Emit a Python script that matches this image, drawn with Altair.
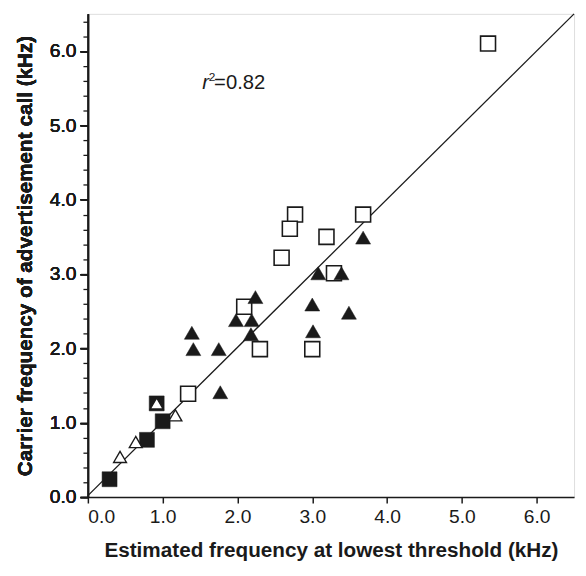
import altair as alt
import pandas as pd

# ---- data ----
open_sq_x = [5.35, 2.77, 2.70, 3.68, 3.19, 2.59, 3.29, 2.09, 2.30, 3.00, 1.34]
open_sq_y = [6.10, 3.80, 3.61, 3.80, 3.50, 3.22, 3.01, 2.56, 1.99, 1.99, 1.39]

filled_tri_x = [3.68, 3.08, 3.39, 2.24, 1.98, 2.19, 3.00, 3.49, 1.39, 2.18, 3.01, 1.41, 1.75, 1.77]
filled_tri_y = [3.49, 3.01, 3.01, 2.69, 2.38, 2.38, 2.59, 2.48, 2.21, 2.19, 2.23, 1.99, 1.99, 1.41]

filled_sq_x = [0.29, 0.79, 1.00, 0.92]
filled_sq_y = [0.24, 0.77, 1.02, 1.26]

open_tri_x = [0.43, 0.64, 1.17, 0.92]
open_tri_y = [0.54, 0.74, 1.10, 1.26]

fit_x = [0.0, 6.5]
fit_y = [0.02, 6.5]

major_ticks = [0, 1, 2, 3, 4, 5, 6]
minor_ticks = [0.0, 0.2, 0.4, 0.6, 0.8, 1.0, 1.2, 1.4, 1.6, 1.8, 2.0, 2.2, 2.4, 2.6,
               2.8, 3.0, 3.2, 3.4, 3.6, 3.8, 4.0, 4.2, 4.4, 4.6, 4.8, 5.0, 5.2, 5.4,
               5.6, 5.8, 6.0, 6.2, 6.4]

x_title = "Estimated frequency at lowest threshold (kHz)"
y_title = "Carrier frequency of advertisement call (kHz)"
r2_text = "=0.82"


def frame(xs, ys):
    return pd.DataFrame({"x": xs, "y": ys})


FONT = "Liberation Sans"
INK = "#1a1a1a"

xscale = alt.Scale(domain=[0, 6.5], nice=False, zero=False)
yscale = alt.Scale(domain=[0, 6.5], nice=False, zero=False)

x_axis = alt.Axis(values=major_ticks, format=".1f", title=x_title, grid=False,
                  tickSize=6, tickWidth=1.5, tickColor=INK, domainColor=INK,
                  domainWidth=1.5, labelFont=FONT, labelFontSize=19.5,
                  labelColor=INK, labelPadding=5, titleFont=FONT,
                  titleFontSize=21, titleFontWeight="bold", titleColor=INK,
                  titlePadding=14)
y_axis = alt.Axis(orient="left", values=major_ticks, format=".1f", title=y_title,
                  grid=False, tickSize=8, tickWidth=1.5, tickColor=INK,
                  domainColor=INK, domainWidth=1.5, labelFont=FONT,
                  labelFontSize=19.5, labelColor=INK, labelPadding=4,
                  titleFont=FONT, titleFontSize=21, titleFontWeight="bold",
                  titleColor=INK, titlePadding=14)
y_minor_axis = alt.Axis(orient="left", values=minor_ticks, labels=False,
                        title=None, grid=False, tickSize=5, tickWidth=1.3,
                        tickColor=INK, domain=False)

x_enc = alt.X("x:Q", scale=xscale, axis=x_axis)
y_enc = alt.Y("y:Q", scale=yscale, axis=y_axis)

SIZE = 230

fit = alt.Chart(frame(fit_x, fit_y)).mark_line(
    color=INK, strokeWidth=1.3).encode(x=x_enc, y=y_enc)

minor = alt.Chart(frame(fit_x, fit_y)).mark_line(opacity=0).encode(
    x=x_enc, y=alt.Y("y:Q", scale=yscale, axis=y_minor_axis))

open_sq = alt.Chart(frame(open_sq_x, open_sq_y)).mark_point(
    shape="square", size=SIZE, filled=True, fill="white", stroke=INK,
    strokeWidth=1.6, opacity=1).encode(x=x_enc, y=y_enc)

filled_tri = alt.Chart(frame(filled_tri_x, filled_tri_y)).mark_point(
    shape="triangle-up", size=SIZE, filled=True, fill=INK, stroke=INK,
    strokeWidth=0.5, opacity=1).encode(x=x_enc, y=y_enc)

filled_sq = alt.Chart(frame(filled_sq_x, filled_sq_y)).mark_point(
    shape="square", size=SIZE, filled=True, fill=INK, stroke=INK,
    strokeWidth=0.5, opacity=1).encode(x=x_enc, y=y_enc)

open_tri = alt.Chart(frame(open_tri_x, open_tri_y)).mark_point(
    shape="triangle-up", size=170, filled=True, fill="white", stroke=INK,
    strokeWidth=1.4, opacity=1).encode(x=x_enc, y=y_enc)

ann = pd.DataFrame({"t": [r2_text]})
r_label = alt.Chart(ann).mark_text(
    text="r", font=FONT, fontSize=20.5, fontStyle="italic", align="left",
    baseline="alphabetic", color=INK).encode(x=alt.value(116), y=alt.value(76))
sup_label = alt.Chart(ann).mark_text(
    text="2", font=FONT, fontSize=12, align="left", baseline="alphabetic",
    color=INK).encode(x=alt.value(122.5), y=alt.value(68))
val_label = alt.Chart(ann).mark_text(
    font=FONT, fontSize=20.5, align="left", baseline="alphabetic",
    color=INK).encode(text="t:N", x=alt.value(128), y=alt.value(76))

chart = alt.layer(
    fit, minor, open_sq, filled_tri, filled_sq, open_tri,
    r_label, sup_label, val_label
).resolve_axis(y="independent").properties(
    width=493, height=490,
    autosize=alt.AutoSizeParams(type="none"),
    padding={"left": 81, "top": 2, "right": 4, "bottom": 70},
).configure_view(stroke=INK, strokeWidth=1.5).configure(background="white")

chart.save("out.html", embed_options={"renderer": "svg", "actions": False})
